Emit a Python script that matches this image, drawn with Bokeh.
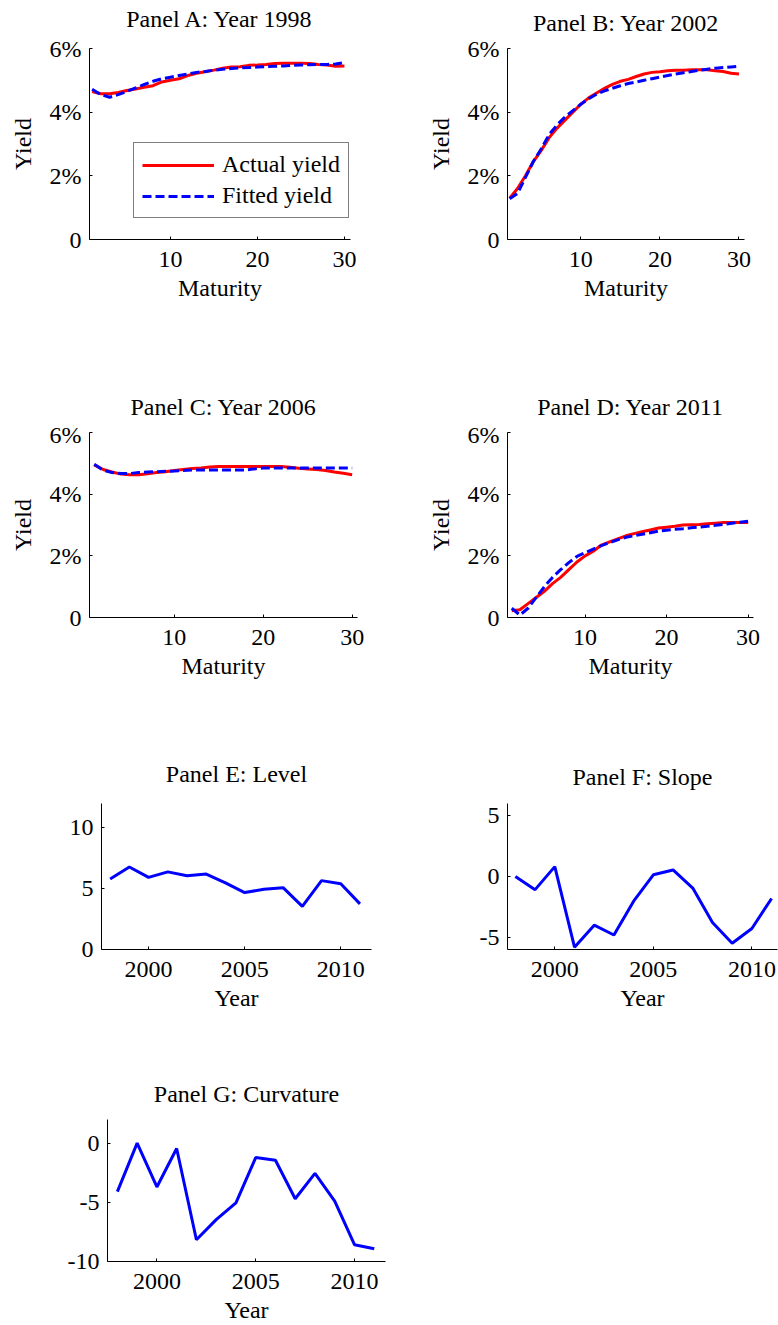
from bokeh.plotting import figure
from bokeh.layouts import column, row
from bokeh.models import Legend, LegendItem, FixedTicker, Range1d, Label
from bokeh.embed import file_html
from bokeh.resources import INLINE

FONT = "Liberation Serif"
FS = "24px"

# ---------------- data ----------------
maturity = list(range(1, 31))

actual_1998 = [4.65, 4.58, 4.58, 4.62, 4.68, 4.73, 4.78, 4.83, 4.95, 5.00,
               5.05, 5.15, 5.22, 5.27, 5.32, 5.38, 5.42, 5.43, 5.47, 5.48,
               5.50, 5.53, 5.54, 5.54, 5.54, 5.53, 5.50, 5.48, 5.44, 5.45]
fitted_1998 = [4.72, 4.55, 4.47, 4.55, 4.65, 4.76, 4.87, 4.97, 5.05, 5.10,
               5.15, 5.20, 5.25, 5.28, 5.32, 5.35, 5.37, 5.39, 5.40, 5.42,
               5.43, 5.44, 5.45, 5.47, 5.48, 5.49, 5.50, 5.50, 5.51, 5.56]

actual_2002 = [1.30, 1.60, 2.00, 2.45, 2.80, 3.20, 3.50, 3.75, 4.00, 4.25,
               4.45, 4.60, 4.75, 4.87, 4.97, 5.03, 5.12, 5.20, 5.25, 5.27,
               5.30, 5.32, 5.32, 5.33, 5.33, 5.33, 5.30, 5.28, 5.22, 5.20]
fitted_2002 = [1.28, 1.45, 1.95, 2.45, 2.85, 3.30, 3.60, 3.85, 4.05, 4.25,
               4.42, 4.57, 4.67, 4.75, 4.83, 4.90, 4.95, 5.00, 5.05, 5.10,
               5.15, 5.20, 5.24, 5.28, 5.32, 5.35, 5.38, 5.40, 5.42, 5.44]

actual_2006 = [4.95, 4.80, 4.72, 4.65, 4.63, 4.63, 4.66, 4.70, 4.73, 4.77,
               4.80, 4.83, 4.85, 4.88, 4.90, 4.90, 4.90, 4.90, 4.90, 4.90,
               4.90, 4.90, 4.87, 4.84, 4.82, 4.80, 4.77, 4.72, 4.68, 4.63]
fitted_2006 = [4.97, 4.78, 4.70, 4.67, 4.67, 4.70, 4.72, 4.73, 4.74, 4.75,
               4.77, 4.78, 4.78, 4.78, 4.78, 4.78, 4.78, 4.78, 4.82, 4.85,
               4.85, 4.85, 4.85, 4.85, 4.85, 4.85, 4.85, 4.85, 4.85, 4.85]

actual_2011 = [0.22, 0.25, 0.45, 0.65, 0.85, 1.10, 1.30, 1.55, 1.80, 2.00,
               2.15, 2.35, 2.45, 2.55, 2.65, 2.72, 2.78, 2.84, 2.90, 2.93,
               2.96, 3.00, 3.01, 3.02, 3.04, 3.06, 3.08, 3.08, 3.08, 3.08]
fitted_2011 = [0.30, 0.08, 0.30, 0.65, 1.00, 1.30, 1.55, 1.78, 1.98, 2.10,
               2.22, 2.33, 2.43, 2.52, 2.60, 2.65, 2.70, 2.75, 2.80, 2.83,
               2.86, 2.88, 2.91, 2.93, 2.96, 2.99, 3.02, 3.06, 3.09, 3.12]

years = list(range(1998, 2012))
level = [5.80, 6.78, 5.93, 6.38, 6.06, 6.20, 5.48, 4.68, 4.95, 5.08, 3.54, 5.66, 5.40, 3.75]
slope = [0.00, -1.08, 0.81, -5.81, -4.00, -4.81, -2.03, 0.14, 0.54, -0.95, -3.78, -5.49, -4.27, -1.81]
curvature = [-4.10, 0.00, -3.70, -0.45, -8.16, -6.46, -5.04, -1.22, -1.44, -4.70, -2.55, -4.90, -8.58, -8.92]

titles = ["Panel A: Year 1998", "Panel B: Year 2002", "Panel C: Year 2006",
          "Panel D: Year 2011", "Panel E: Level", "Panel F: Slope", "Panel G: Curvature"]

yield_ticks = [0, 2, 4, 6]
yield_tick_labels = ["0", "2%", "4%", "6%"]
maturity_ticks = [10, 20, 30]
year_ticks = [2000, 2005, 2010]
level_ticks = [0, 5, 10]
slope_ticks = [-5, 0, 5]
curv_ticks = [-10, -5, 0]

RED = "#ff0000"
BLUE = "#0000ff"

BASELINE_SHIFT = 9  # renderer places the alphabetic baseline this much lower


def title_fig(width, height, left, right, text, baseline_from_top):
    """A blank strip holding a panel title, centred over the panel's frame."""
    t = figure(width=width, height=height, output_backend="svg",
               toolbar_location=None, x_axis_type=None, y_axis_type=None,
               x_range=Range1d(0, 1), y_range=Range1d(0, height),
               min_border_left=left, min_border_right=right,
               min_border_top=0, min_border_bottom=0)
    t.outline_line_color = None
    t.background_fill_color = "white"
    t.border_fill_color = "white"
    t.add_layout(Label(x=0.5, y=height - baseline_from_top + BASELINE_SHIFT, text=text,
                       text_align="center", text_baseline="alphabetic",
                       text_font=FONT, text_font_size=FS, text_color="black"))
    return t


def base_fig(width, height, borders, xr, yr, xlabel, ylabel,
             xticks, yticks, ylabels):
    left, top, right, bottom = borders
    p = figure(width=width, height=height, output_backend="svg",
               toolbar_location=None, x_range=Range1d(*xr), y_range=Range1d(*yr),
               min_border_left=left, min_border_top=top,
               min_border_right=right, min_border_bottom=bottom)
    p.outline_line_color = None
    p.background_fill_color = "white"
    p.border_fill_color = "white"
    p.xgrid.visible = False
    p.ygrid.visible = False
    for ax in (p.xaxis[0], p.yaxis[0]):
        ax.major_tick_in = 3
        ax.major_tick_out = 0
        ax.minor_tick_line_color = None
        ax.axis_line_color = "black"
        ax.axis_line_width = 1
        ax.major_tick_line_color = "black"
        ax.major_label_text_font = FONT
        ax.major_label_text_font_size = FS
        ax.major_label_text_color = "black"
        ax.axis_label_text_font = FONT
        ax.axis_label_text_font_size = FS
        ax.axis_label_text_font_style = "normal"
        ax.axis_label_text_color = "black"
    p.xaxis[0].ticker = FixedTicker(ticks=xticks)
    p.xaxis[0].major_label_overrides = {t: str(t) for t in xticks}
    p.xaxis[0].major_label_standoff = 12
    p.xaxis[0].axis_label = xlabel
    p.xaxis[0].axis_label_standoff = 5
    p.yaxis[0].ticker = FixedTicker(ticks=yticks)
    p.yaxis[0].major_label_overrides = {t: l for t, l in zip(yticks, ylabels)}
    p.yaxis[0].major_label_standoff = 8
    if ylabel:
        p.yaxis[0].axis_label = ylabel
        p.yaxis[0].axis_label_standoff = 11
    return p


def curve_panel(width, height, borders, xr, actual, fitted, legend=False):
    p = base_fig(width, height, borders, xr, (0, 6), "Maturity", "Yield",
                 maturity_ticks, yield_ticks, yield_tick_labels)
    r1 = p.line(maturity, actual, line_color=RED, line_width=3)
    r2 = p.line(maturity, fitted, line_color=BLUE, line_width=3, line_dash="9 4")
    if legend:
        leg = Legend(items=[LegendItem(label="Actual yield", renderers=[r1]),
                            LegendItem(label="Fitted yield", renderers=[r2])],
                     location=(44, 21), orientation="vertical")
        leg.label_text_font = FONT
        leg.label_text_font_size = FS
        leg.label_text_color = "black"
        leg.glyph_width = 72
        leg.glyph_height = 26
        leg.label_height = 26
        leg.label_standoff = 8
        leg.spacing = 4
        leg.padding = 8
        leg.margin = 0
        leg.border_line_color = "black"
        leg.border_line_width = 1
        leg.background_fill_color = "white"
        leg.background_fill_alpha = 1.0
        p.add_layout(leg, "center")
    return p


def factor_panel(width, height, borders, xr, yr, values, yticks):
    p = base_fig(width, height, borders, xr, yr, "Year", None,
                 year_ticks, yticks, [str(t) for t in yticks])
    p.line(years, values, line_color=BLUE, line_width=3)
    return p


# row 1 (title strip 34 px, plots 351 px)
tA = title_fig(390, 34, 89, 40, titles[0], 27)
tB = title_fig(388, 34, 117, 34, titles[1], 31)
pA = curve_panel(390, 351, (89, 9, 40, 146), (0.7, 30.7), actual_1998, fitted_1998, legend=True)
pB = curve_panel(388, 351, (117, 14, 34, 146), (0.73, 30.7), actual_2002, fitted_2002)

# row 2 (title strip 36 px, plots 339 px)
tC = title_fig(390, 36, 89, 33, titles[2], 30)
tD = title_fig(388, 36, 117, 25, titles[3], 30)
pC = curve_panel(390, 339, (89, 11, 33, 143), (0.47, 30.6), actual_2006, fitted_2006)
pD = curve_panel(388, 339, (117, 11, 25, 143), (0.48, 30.66), actual_2011, fitted_2011)

# row 3 (title strip 32 px, plots 278 px)
tE = title_fig(390, 32, 101, 19, titles[4], 22)
tF = title_fig(388, 32, 117, 1, titles[5], 25)
pE = factor_panel(390, 278, (101, 7, 19, 121), (1997.55, 2011.6), (0, 12), level, level_ticks)
pF = factor_panel(388, 278, (117, 11, 1, 118), (1997.6, 2011.3), (-6, 6), slope, slope_ticks)

# row 4 (title strip 40 px, plot 215 px)
tG = title_fig(390, 40, 107, 5, titles[6], 32)
pG = factor_panel(390, 215, (107, 9, 5, 64), (1997.5, 2011.57), (-10, 2), curvature, curv_ticks)

layout = column(row(tA, tB), row(pA, pB),
                row(tC, tD), row(pC, pD),
                row(tE, tF), row(pE, pF),
                row(tG), row(pG))

with open("out.html", "w") as f:
    f.write(file_html(layout, INLINE))
